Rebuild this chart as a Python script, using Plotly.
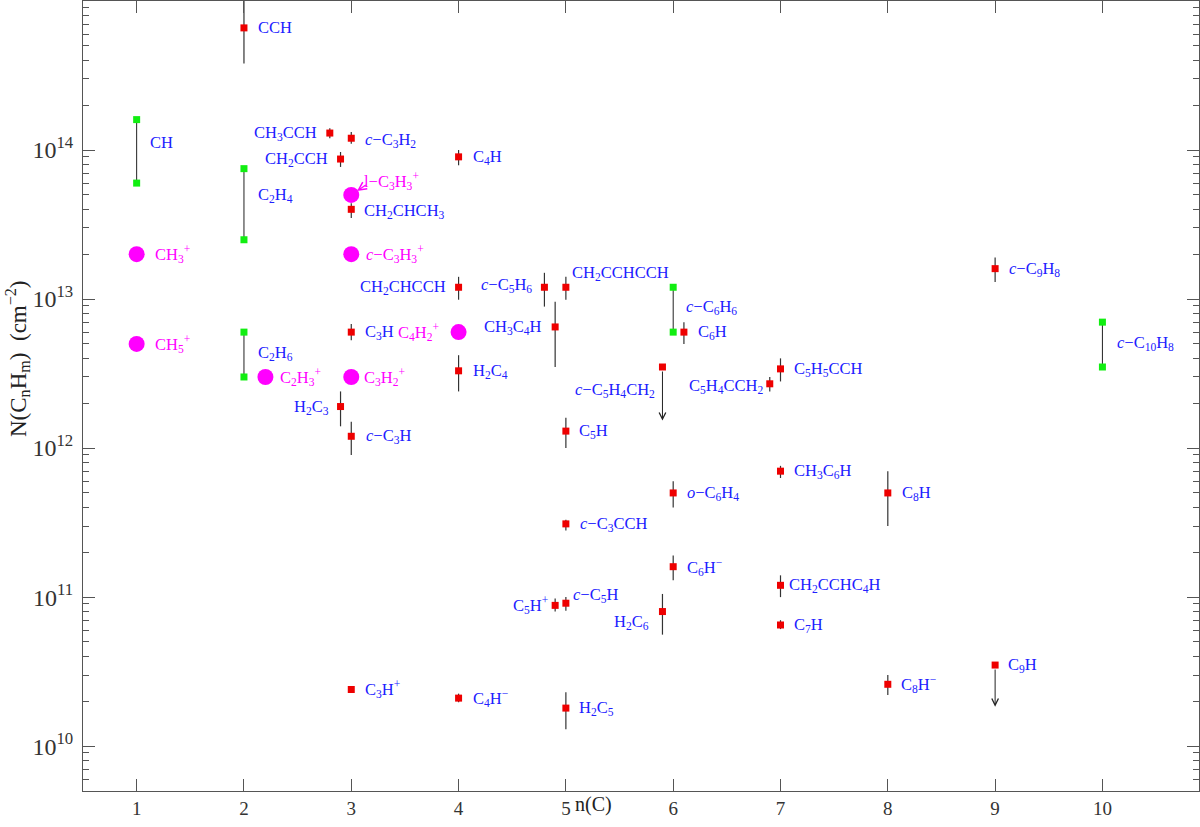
import numpy as np
import plotly.graph_objects as go

# ---------------- data ----------------
# detections (red squares) with error bars
det_labels = [
    "CCH", "CH<sub>3</sub>CCH", "<i>c</i>−C<sub>3</sub>H<sub>2</sub>", "CH<sub>2</sub>CCH",
    "CH<sub>2</sub>CHCH<sub>3</sub>", "C<sub>3</sub>H", "H<sub>2</sub>C<sub>3</sub>", "<i>c</i>−C<sub>3</sub>H",
    "C<sub>3</sub>H<sup>+</sup>", "C<sub>4</sub>H", "CH<sub>2</sub>CHCCH", "H<sub>2</sub>C<sub>4</sub>",
    "C<sub>4</sub>H<sup>−</sup>", "<i>c</i>−C<sub>5</sub>H<sub>6</sub>", "CH<sub>2</sub>CCHCCH",
    "CH<sub>3</sub>C<sub>4</sub>H", "C<sub>6</sub>H", "C<sub>5</sub>H", "<i>c</i>−C<sub>3</sub>CCH",
    "<i>o</i>−C<sub>6</sub>H<sub>4</sub>", "C<sub>6</sub>H<sup>−</sup>", "C<sub>5</sub>H<sup>+</sup>",
    "<i>c</i>−C<sub>5</sub>H", "H<sub>2</sub>C<sub>6</sub>", "H<sub>2</sub>C<sub>5</sub>",
    "C<sub>5</sub>H<sub>4</sub>CCH<sub>2</sub>", "C<sub>5</sub>H<sub>5</sub>CCH", "CH<sub>3</sub>C<sub>6</sub>H",
    "CH<sub>2</sub>CCHC<sub>4</sub>H", "C<sub>7</sub>H", "C<sub>8</sub>H", "C<sub>8</sub>H<sup>−</sup>",
    "<i>c</i>−C<sub>9</sub>H<sub>8</sub>",
]
det_nc = [2, 2.8, 3, 2.9, 3, 3, 2.9, 3, 3, 4, 4, 4, 4, 4.8, 5, 4.9, 6.1, 5, 5, 6, 6, 4.9, 5, 5.9, 5,
          6.9, 7, 7, 7, 7, 8, 8, 9]
det_N = [6.6e14, 1.3e14, 1.2e14, 8.7e13, 4.0e13, 6.0e12, 1.9e12, 1.2e12, 2.4e10, 9.0e13, 1.2e13, 3.3e12,
         2.1e10, 1.2e13, 1.2e13, 6.5e12, 6.0e12, 1.3e12, 3.1e11, 5.0e11, 1.6e11, 8.8e10, 9.1e10, 8.0e10,
         1.8e10, 2.7e12, 3.4e12, 7.0e11, 1.2e11, 6.5e10, 5.0e11, 2.6e10, 1.6e13]
det_lo = [3.8e14, 1.2e14, 1.1e14, 7.7e13, 3.5e13, 5.3e12, 1.4e12, 9.0e11, 2.4e10, 7.9e13, 9.9e12, 2.4e12,
          1.97e10, 8.9e12, 9.9e12, 3.5e12, 5.0e12, 1.0e12, 2.8e11, 4.0e11, 1.3e11, 8.0e10, 8.1e10, 5.6e10,
          1.3e10, 2.4e12, 2.8e12, 6.3e11, 1.0e11, 6.1e10, 3.0e11, 2.2e10, 1.3e13]
det_hi = [1.12e15, 1.4e14, 1.32e14, 9.7e13, 4.4e13, 6.8e12, 2.4e12, 1.5e12, 2.4e10, 1.0e14, 1.41e13, 4.2e12,
          2.25e10, 1.5e13, 1.41e13, 9.6e12, 7.0e12, 1.6e12, 3.3e11, 6.0e11, 1.9e11, 9.8e10, 1.0e11, 1.05e11,
          2.3e10, 3.0e12, 4.0e12, 7.6e11, 1.4e11, 7.0e10, 7.0e11, 3.0e10, 1.9e13]

# upper limits (red squares with downward arrows)
ul_labels = ["<i>c</i>−C<sub>5</sub>H<sub>4</sub>CH<sub>2</sub>", "C<sub>9</sub>H"]
ul_nc = [5.9, 9]
ul_N = [3.5e12, 3.5e10]
ul_to = [1.53e12, 1.84e10]

# ranges (green squares joined by a line)
rng_labels = ["CH", "C<sub>2</sub>H<sub>4</sub>", "C<sub>2</sub>H<sub>6</sub>",
              "<i>c</i>−C<sub>6</sub>H<sub>6</sub>", "<i>c</i>−C<sub>10</sub>H<sub>8</sub>"]
rng_nc = [1, 2, 2, 6, 10]
rng_hi = [1.6e14, 7.5e13, 6.0e12, 1.2e13, 7.0e12]
rng_lo = [6.0e13, 2.5e13, 3.0e12, 6.0e12, 3.5e12]

# cations (magenta circles)
cat_labels = ["CH<sub>3</sub><sup>+</sup>", "CH<sub>5</sub><sup>+</sup>", "C<sub>2</sub>H<sub>3</sub><sup>+</sup>",
              "l−C<sub>3</sub>H<sub>3</sub><sup>+</sup>", "<i>c</i>−C<sub>3</sub>H<sub>3</sub><sup>+</sup>",
              "C<sub>3</sub>H<sub>2</sub><sup>+</sup>", "C<sub>4</sub>H<sub>2</sub><sup>+</sup>"]
cat_nc = [1, 1, 2.2, 3, 3, 3, 4]
cat_N = [2.0e13, 5.0e12, 3.0e12, 5.0e13, 2.0e13, 3.0e12, 6.0e12]

x_ticks = [1, 2, 3, 4, 5, 6, 7, 8, 9, 10]
y_ticks = [1e10, 1e11, 1e12, 1e13, 1e14]
y_ticktext = ["10<sup>10</sup>", "10<sup>11</sup>", "10<sup>12</sup>", "10<sup>13</sup>", "10<sup>14</sup>"]

# ---------------- label placement (pixels: dx, dy-up, side) ----------------
R, L = "left", "right"
det_pos = [(12, 0, R), (-11, 0, L), (12, -2, R), (-11, 0, L), (11, -2, R), (12, 0, R), (-10, 0, L),
           (13, 0, R), (12, 0, R), (12, 0, R), (-11, 0, L), (12, 0, R), (12, 0, R), (-10, 2, L),
           (4, 14, R), (-11, 0, L), (12, 0, R), (11, 0, R), (12, 0, R), (12, 0, R), (12, 0, R),
           (-5, 0, L), (5, 8, R), (-11, -10, L), (11, 0, R), (-5, -2, L), (11, 0, R), (11, 0, R),
           (6, 0, R), (11, 0, R), (12, 0, R), (11, 0, R), (12, 0, R)]
ul_pos = [(-5, -23, L), (11, 0, R)]
rng_pos = [(11, 9, R), (12, 9, R), (12, 2, R), (11, 3, R), (13, 2, R)]
cat_pos = [(16, 0, R), (16, 0, R), (13, 0, R), (11, 14, R), (13, 0, R), (11, 0, R), (-18, 0, L)]

RED = "#ee0000"
GREEN = "#11ee11"
MAG = "#ff00ff"
BLUE = "#2020ff"
EB = "#333333"
FONT = "Liberation Serif"

fig = go.Figure()

# green ranges: connecting lines
lx, ly = [], []
for x, hi, lo in zip(rng_nc, rng_hi, rng_lo):
    lx += [x, x, None]
    ly += [hi, lo, None]
fig.add_trace(go.Scatter(x=lx, y=ly, mode="lines", line=dict(color="#222222", width=1),
                         hoverinfo="skip", showlegend=False))
fig.add_trace(go.Scatter(x=rng_nc + rng_nc, y=rng_hi + rng_lo, mode="markers",
                         marker=dict(symbol="square", size=7, color=GREEN), showlegend=False))

# detections with error bars
fig.add_trace(go.Scatter(
    x=det_nc, y=det_N, mode="markers",
    marker=dict(symbol="square", size=7, color=RED),
    error_y=dict(type="data", symmetric=False,
                 array=[h - v for h, v in zip(det_hi, det_N)],
                 arrayminus=[v - l for v, l in zip(det_N, det_lo)],
                 color=EB, thickness=1.2, width=0),
    showlegend=False))

# upper limits
fig.add_trace(go.Scatter(x=ul_nc, y=ul_N, mode="markers",
                         marker=dict(symbol="square", size=7, color=RED), showlegend=False))

# cations
fig.add_trace(go.Scatter(x=cat_nc, y=cat_N, mode="markers",
                         marker=dict(symbol="circle", size=16, color=MAG), showlegend=False))

annotations = []


def add_label(text, x, yval, pos, color):
    dx, dy, anchor = pos
    annotations.append(dict(x=x, y=np.log10(yval), xref="x", yref="y", text=text, showarrow=False,
                            xanchor=anchor, yanchor="middle", xshift=dx, yshift=dy,
                            font=dict(family=FONT, size=16.5, color=color)))


for t, x, v, p in zip(det_labels, det_nc, det_N, det_pos):
    add_label(t, x, v, p, BLUE)
for t, x, v, p in zip(ul_labels, ul_nc, ul_N, ul_pos):
    add_label(t, x, v, p, BLUE)
for t, x, hi, lo, p in zip(rng_labels, rng_nc, rng_hi, rng_lo, rng_pos):
    add_label(t, x, np.sqrt(hi * lo), p, BLUE)
for t, x, v, p in zip(cat_labels, cat_nc, cat_N, cat_pos):
    add_label(t, x, v, p, MAG)

# upper-limit arrows
for x, v, to in zip(ul_nc, ul_N, ul_to):
    annotations.append(dict(x=x, y=np.log10(to), ax=x, ay=np.log10(v), xref="x", yref="y",
                            axref="x", ayref="y", text="", showarrow=True, arrowhead=5,
                            arrowsize=1.3, arrowwidth=1, arrowcolor="#222222", startstandoff=3))

# arrow from l-C3H3+ label to its circle
i_l = 3
annotations.append(dict(x=cat_nc[i_l], y=np.log10(cat_N[i_l]), xref="x", yref="y", ax=16, ay=-11,
                        text="", showarrow=True, arrowhead=5, arrowsize=1.3, arrowwidth=1.2,
                        arrowcolor=MAG, standoff=7))

# axis titles
annotations.append(dict(x=5.26, y=0, xref="x", yref="paper", yshift=-13, yanchor="middle",
                        text="n(C)", showarrow=False, font=dict(family=FONT, size=20, color="#222222")))
annotations.append(dict(x=0, y=0.5, xref="paper", yref="paper", xshift=-66, yshift=37, textangle=-90,
                        xanchor="center", yanchor="middle",
                        text="N(C<sub>n</sub>H<sub>m</sub>)  (cm<sup>−2</sup>)", showarrow=False,
                        font=dict(family=FONT, size=23, color="#222222")))

minor_vals = [k * 10.0 ** e for e in range(9, 15) for k in range(2, 10)]

fig.update_layout(
    width=1200, height=827,
    margin=dict(l=83, r=1, t=1, b=36),
    paper_bgcolor="white", plot_bgcolor="white",
    annotations=annotations,
    xaxis=dict(range=[0.5, 10.9], tickvals=x_ticks, ticks="inside", ticklen=12, tickwidth=1,
               tickcolor="#555555", showline=True, linecolor="#555555", linewidth=1, mirror="ticks",
               showgrid=False, zeroline=False,
               tickfont=dict(family=FONT, size=19, color="#333333")),
    yaxis=dict(type="log", range=[np.log10(5e9), 15], tickvals=y_ticks, ticktext=y_ticktext,
               ticks="inside", ticklen=12, tickwidth=1, tickcolor="#555555", ticklabelstandoff=4,
               showline=True, linecolor="#555555", linewidth=1, mirror="ticks",
               showgrid=False, zeroline=False,
               minor=dict(tickvals=minor_vals, ticks="inside", ticklen=6, tickcolor="#555555",
                          showgrid=False),
               tickfont=dict(family=FONT, size=24, color="#333333")),
)

fig.write_html("out.html", config={"displayModeBar": False},
               post_script="document.body.style.margin='0';")
